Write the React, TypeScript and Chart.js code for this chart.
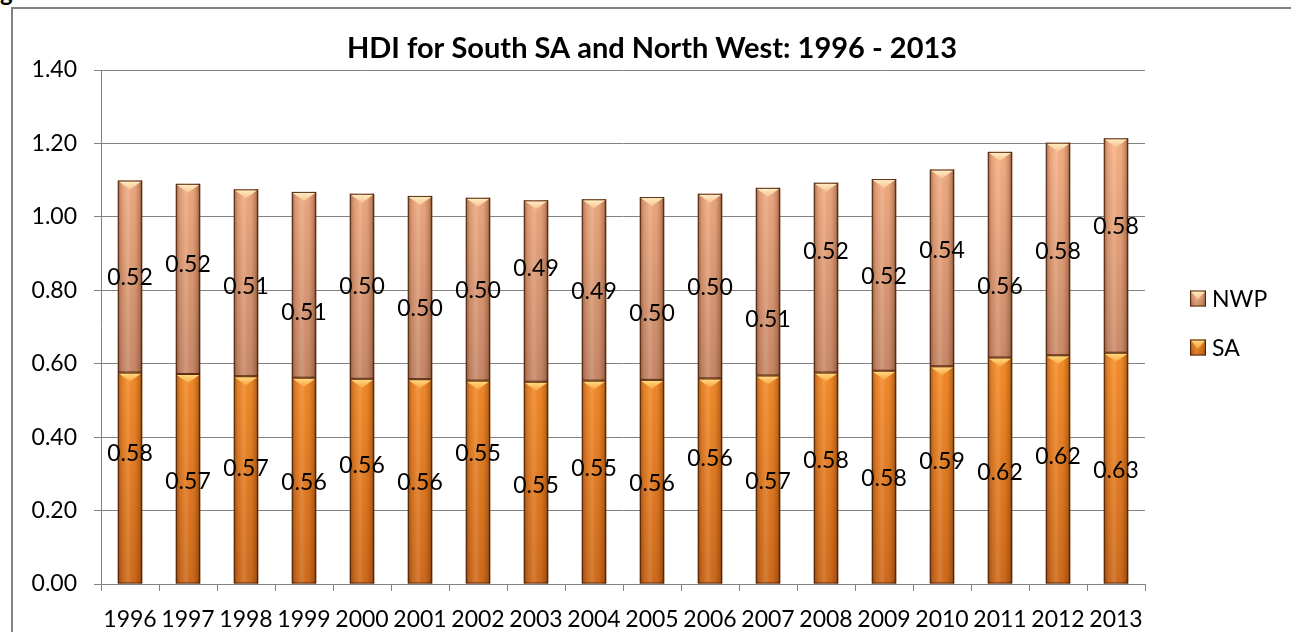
import React, { useEffect, useRef } from 'react';
import { Chart, registerables } from 'chart.js';

Chart.register(...registerables);

const YEARS = ['1996', '1997', '1998', '1999', '2000', '2001', '2002', '2003', '2004', '2005', '2006', '2007', '2008', '2009', '2010', '2011', '2012', '2013'];
const SA = [0.576, 0.572, 0.566, 0.562, 0.559, 0.558, 0.554, 0.551, 0.554, 0.556, 0.560, 0.568, 0.576, 0.581, 0.593, 0.617, 0.623, 0.630];
const NWP = [0.523, 0.518, 0.509, 0.506, 0.504, 0.499, 0.498, 0.494, 0.494, 0.498, 0.503, 0.511, 0.517, 0.522, 0.536, 0.560, 0.579, 0.584];
// where each data label sits, in axis units (labels were placed by hand in the original)
const SA_LABEL_AT = [0.357, 0.283, 0.316, 0.278, 0.324, 0.278, 0.357, 0.272, 0.316, 0.275, 0.343, 0.283, 0.340, 0.289, 0.335, 0.305, 0.351, 0.313];
const NWP_LABEL_AT = [0.836, 0.874, 0.814, 0.741, 0.812, 0.754, 0.801, 0.861, 0.798, 0.738, 0.809, 0.722, 0.907, 0.839, 0.910, 0.812, 0.907, 0.975];
const Y_TICKS = { min: 0, max: 1.4, step: 0.2 };
const TITLE = 'HDI for South SA and North West: 1996 - 2013';

const FONT = "Lato, 'Open Sans', sans-serif";
const FS = 23;
const GRID = '#828282';

const PALETTE: Record<string, { top: string; bottom: string; hiA: string; hiB: string; solid: string }> = {
  SA: { top: '#FA902A', bottom: '#D06A1A', hiA: '#FFE08A', hiB: '#FBAA48', solid: '#F08426' },
  NWP: { top: '#FBB488', bottom: '#C88868', hiA: '#FFF2C8', hiB: '#F9C898', solid: '#EDA57C' },
};

function fillFor(name: string) {
  return (c: any) => {
    const chart = c.chart;
    const area = chart.chartArea;
    const p = PALETTE[name];
    if (!area) return p.solid;
    const ys = chart.scales.y;
    const y0 = name === 'SA' ? ys.getPixelForValue(0.65) : ys.getPixelForValue(1.22);
    const y1 = name === 'SA' ? ys.getPixelForValue(0) : ys.getPixelForValue(0.55);
    const g = chart.ctx.createLinearGradient(0, y0, 0, y1);
    g.addColorStop(0, p.top);
    g.addColorStop(1, p.bottom);
    return g;
  };
}

function drawBarDecor(ctx: CanvasRenderingContext2D, left: number, top: number, width: number, height: number, p: any) {
  const right = left + width;
  const cx = left + width / 2;
  const g = ctx.createLinearGradient(left, 0, right, 0);
  g.addColorStop(0, 'rgba(70,30,5,0.5)');
  g.addColorStop(0.15, 'rgba(70,30,5,0.12)');
  g.addColorStop(0.42, 'rgba(255,255,255,0.12)');
  g.addColorStop(0.7, 'rgba(70,30,5,0.04)');
  g.addColorStop(0.88, 'rgba(70,30,5,0.25)');
  g.addColorStop(1, 'rgba(50,20,0,0.65)');
  ctx.fillStyle = g;
  ctx.fillRect(left, top, width, height);
  const ch = Math.min(8, height / 2);
  const hg = ctx.createLinearGradient(0, top, 0, top + ch);
  hg.addColorStop(0, p.hiA);
  hg.addColorStop(1, p.hiB);
  ctx.fillStyle = hg;
  ctx.beginPath();
  ctx.moveTo(left + 1, top + 1);
  ctx.lineTo(right - 1, top + 1);
  ctx.lineTo(cx, top + ch + 1);
  ctx.closePath();
  ctx.fill();
  ctx.strokeStyle = 'rgba(70,30,8,0.85)';
  ctx.lineWidth = 1;
  ctx.strokeRect(left + 0.5, top + 0.5, width - 1, height - 1);
}

const decorPlugin = {
  id: 'decor',
  afterDatasetsDraw(chart: any) {
    const ctx = chart.ctx as CanvasRenderingContext2D;
    ctx.save();
    chart.data.datasets.forEach((ds: any, di: number) => {
      const meta = chart.getDatasetMeta(di);
      const p = PALETTE[ds.label];
      meta.data.forEach((bar: any) => {
        const { x, y, base, width } = bar.getProps(['x', 'y', 'base', 'width'], true);
        const top = Math.min(y, base);
        const bottom = Math.max(y, base);
        drawBarDecor(ctx, x - width / 2, top, width, bottom - top, p);
      });
    });
    ctx.restore();
  },
  afterDraw(chart: any) {
    const ctx = chart.ctx as CanvasRenderingContext2D;
    const ys = chart.scales.y;
    const area = chart.chartArea;
    ctx.save();
    // title, centred on the whole chart box
    ctx.font = `bold 29px ${FONT}`;
    ctx.fillStyle = '#000';
    ctx.textAlign = 'center';
    ctx.textBaseline = 'middle';
    ctx.fillText(TITLE, chart.width / 2, area.top - 21);
    // data labels
    ctx.font = `${FS}px ${FONT}`;
    const anchors: Record<string, number[]> = { SA: SA_LABEL_AT, NWP: NWP_LABEL_AT };
    chart.data.datasets.forEach((ds: any, di: number) => {
      const meta = chart.getDatasetMeta(di);
      meta.data.forEach((bar: any, i: number) => {
        const v = ds.data[i] as number;
        ctx.fillText(v.toFixed(2), bar.x, ys.getPixelForValue(anchors[ds.label][i]) + 1);
      });
    });
    // legend (reverse order like the original)
    const midY = (area.top + area.bottom) / 2 - 4;
    const items = [...chart.data.datasets].reverse();
    const lx = area.right + 45;
    items.forEach((ds: any, k: number) => {
      const cy = midY + (k - (items.length - 1) / 2) * 49;
      const p = PALETTE[ds.label];
      const g = ctx.createLinearGradient(0, cy - 8, 0, cy + 8);
      g.addColorStop(0, p.top);
      g.addColorStop(1, p.bottom);
      ctx.fillStyle = g;
      ctx.fillRect(lx, cy - 8, 16, 16);
      drawBarDecor(ctx, lx, cy - 8, 16, 16, p);
      ctx.fillStyle = '#000';
      ctx.font = `${FS}px ${FONT}`;
      ctx.textAlign = 'left';
      ctx.textBaseline = 'middle';
      ctx.fillText(ds.label, lx + 22, cy + 1);
    });
    ctx.restore();
  },
};

export default function App() {
  const ref = useRef<HTMLCanvasElement>(null);
  useEffect(() => {
    if (!ref.current) return;
    const chart = new Chart(ref.current, {
      type: 'bar',
      data: {
        labels: YEARS,
        datasets: [
          { label: 'SA', data: SA, backgroundColor: fillFor('SA') as any, borderWidth: 0, barPercentage: 0.42, categoryPercentage: 1 },
          { label: 'NWP', data: NWP, backgroundColor: fillFor('NWP') as any, borderWidth: 0, barPercentage: 0.42, categoryPercentage: 1 },
        ],
      },
      options: {
        responsive: false,
        animation: false,
        layout: { padding: { left: 0, right: 146, top: 61, bottom: 0 } },
        plugins: {
          legend: { display: false },
          tooltip: { enabled: false },
          title: { display: false },
        },
        scales: {
          x: {
            stacked: true,
            afterFit: (s: any) => { s.height = 48; },
            grid: { display: true, drawOnChartArea: false, drawTicks: true, tickLength: 7, color: GRID, lineWidth: 1 },
            border: { display: true, color: GRID, width: 1 },
            ticks: { color: '#000', font: { family: FONT, size: FS }, padding: 15, maxRotation: 0, autoSkip: false },
          },
          y: {
            stacked: true,
            min: Y_TICKS.min,
            max: Y_TICKS.max,
            afterFit: (s: any) => { s.width = 88; },
            grid: { color: GRID, lineWidth: 1, tickLength: 7, drawTicks: true },
            border: { display: true, color: GRID, width: 1 },
            ticks: {
              stepSize: Y_TICKS.step,
              color: '#000',
              padding: 17,
              font: { family: FONT, size: FS },
              callback: (v: any) => Number(v).toFixed(2),
            },
          },
        },
      },
      plugins: [decorPlugin],
    });
    return () => chart.destroy();
  }, []);

  return (
    <div style={{ position: 'fixed', left: 0, top: 0, width: 1291, height: 632, overflow: 'hidden', background: '#fff' }}>
      <div style={{ position: 'absolute', left: 0, top: -23, font: `bold 24px ${FONT}`, lineHeight: '29px', color: '#000' }}>g</div>
      <div style={{ position: 'absolute', left: 11, top: 7, width: 1320, height: 700, border: `2px solid ${GRID}`, boxSizing: 'border-box' }}>
        <canvas ref={ref} width={1278} height={623} style={{ position: 'absolute', left: 0, top: 0, display: 'block' }} />
      </div>
    </div>
  );
}
